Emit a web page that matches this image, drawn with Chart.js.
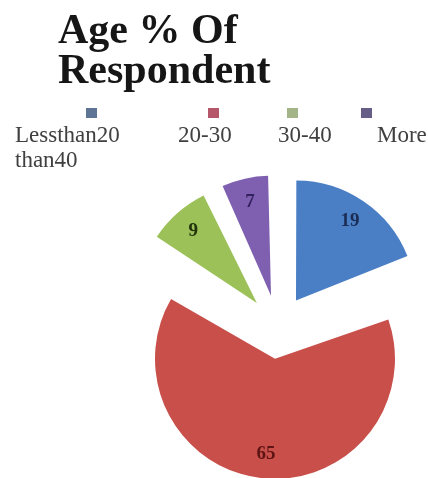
<!DOCTYPE html>
<html><head><meta charset="utf-8">
<script src="https://cdn.jsdelivr.net/npm/chart.js@4.4.1/dist/chart.umd.min.js"></script>
<style>html,body{margin:0;padding:0;background:#fff;} #wrap{width:428px;height:478px;position:relative;}</style>
</head><body><div id="wrap"><canvas id="c" width="428" height="478"></canvas></div>
<script>
// ---- data ----
const titleLines = ['Age % Of', 'Respondent'];
const categories = ['Lessthan20', '20-30', '30-40', 'More than40'];
const values = [19, 65, 9, 7];

// ---- styles ----
const sliceColors = ['#4A7FC5', '#C84F4A', '#9BC158', '#7F60B0'];
const legendColors = ['#5E7596', '#B5566A', '#A3B487', '#665E86'];
const labelColors = ['#1B2C55', '#5E1414', '#22330E', '#33205E'];
const EXPLODE = 32;      // px each slice is pulled out
const PIE_RADIUS = 120;
const legendSlots = [{box: 86, text: 15}, {box: 208, text: 178}, {box: 287, text: 278}, {box: 361, text: 377}];

// Chart.js grows an offset arc's radius by offset/4 * fix; compensate so all slices share one radius
function arcFix(arc) {
  return 1 - Math.sin(Math.min(Math.PI, arc.circumference || 0));
}

const decorPlugin = {
  id: 'decor',
  afterDatasetsUpdate(chart) {
    chart.getDatasetMeta(0).data.forEach(arc => {
      arc.outerRadius = PIE_RADIUS - EXPLODE * arcFix(arc);
    });
  },
  afterDraw(chart) {
    const ctx = chart.ctx;
    ctx.save();
    // title
    ctx.fillStyle = '#161616';
    ctx.font = 'bold 42px "Liberation Serif"';
    ctx.textAlign = 'left';
    ctx.textBaseline = 'alphabetic';
    titleLines.forEach((t, i) => ctx.fillText(t, 58, 43 + i * 40));

    // legend
    ctx.font = '23px "Liberation Serif"';
    const baseY = 142, lineH = 25, rightLimit = 431, wrapX = 15;
    categories.forEach((label, i) => {
      const slot = legendSlots[i];
      ctx.fillStyle = legendColors[i];
      ctx.fillRect(slot.box, 108, 11, 10);
      ctx.fillStyle = '#404040';
      let x = slot.text, y = baseY;
      label.split(' ').forEach((w, k) => {
        const word = (k > 0 ? ' ' : '') + w;
        const wd = ctx.measureText(word).width;
        if (k > 0 && x + wd > rightLimit) {
          x = wrapX; y += lineH;
          ctx.fillText(w, x, y);
          x += ctx.measureText(w).width;
        } else {
          ctx.fillText(word, x, y);
          x += wd;
        }
      });
    });

    // value labels
    const meta = chart.getDatasetMeta(0);
    ctx.font = 'bold 19px "Liberation Serif"';
    ctx.textAlign = 'center';
    ctx.textBaseline = 'middle';
    meta.data.forEach((arc, i) => {
      const mid = (arc.startAngle + arc.endAngle) / 2;
      const d = EXPLODE + PIE_RADIUS * 0.8;
      ctx.fillStyle = labelColors[i];
      ctx.fillText(String(values[i]), arc.x + Math.cos(mid) * d, arc.y + Math.sin(mid) * d);
    });
    ctx.restore();
  }
};

new Chart(document.getElementById('c'), {
  type: 'pie',
  data: {
    labels: categories,
    datasets: [{
      data: values,
      backgroundColor: sliceColors,
      borderWidth: 0,
      offset: EXPLODE * 4
    }]
  },
  options: {
    responsive: false,
    animation: false,
    events: [],
    radius: PIE_RADIUS,
    layout: {padding: {left: 128, top: 176, right: 0, bottom: 0}},
    plugins: {
      legend: {display: false},
      title: {display: false},
      tooltip: {enabled: false}
    }
  },
  plugins: [decorPlugin]
});
</script>
</body></html>
